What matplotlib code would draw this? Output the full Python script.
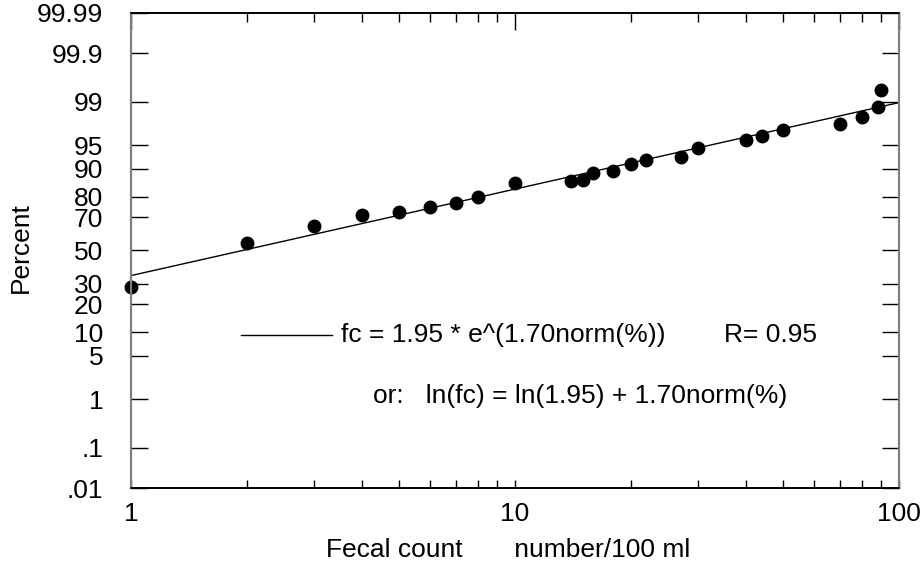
import math
import numpy as np
import matplotlib
matplotlib.use("Agg")
import matplotlib.pyplot as plt
from matplotlib.lines import Line2D

plt.rcParams['font.family'] = ['Liberation Sans', 'DejaVu Sans']

# fecal count (number/100 ml) and cumulative percent
fc = [1, 2, 3, 4, 5, 6, 7, 8, 10, 14, 15, 16, 18, 20, 22, 27, 30,
      40, 44, 50, 70, 80, 88, 90]
pct = [28.6, 54.6, 64.7, 70.9, 72.6, 75.1, 77.1, 80.1, 85.5, 86.1, 86.6,
       88.7, 89.2, 91.1, 92.1, 92.8, 94.5, 95.8, 96.4, 97.0, 97.6, 98.2,
       98.77, 99.40]

# fit: fc = a * e^(b*norm(%))
fit_a = 1.95
fit_b = 1.70
fit_r = 0.95

pct_ticks = [0.01, 0.1, 1, 5, 10, 20, 30, 50, 70, 80, 90, 95, 99, 99.9, 99.99]
pct_labels = ['.01', '.1', '1', '5', '10', '20', '30', '50', '70', '80',
              '90', '95', '99', '99.9', '99.99']
x_ticks = [1, 10, 100]
x_labels = ['1', '10', '100']

# normal quantile (Acklam approximation) and its inverse
_a = [-3.969683028665376e+01, 2.209460984245205e+02, -2.759285104469687e+02,
      1.383577518672690e+02, -3.066479806614716e+01, 2.506628277459239e+00]
_b = [-5.447609879822406e+01, 1.615858368580409e+02, -1.556989798598866e+02,
      6.680131188771972e+01, -1.328068155288572e+01]
_c = [-7.784894002430293e-03, -3.223964580411365e-01, -2.400758277161838e+00,
      -2.549732539343734e+00, 4.374664141464968e+00, 2.938163982698783e+00]
_d = [7.784695709041462e-03, 3.224671290700398e-01, 2.445134137142996e+00,
      3.754408661907416e+00]


def _ppf1(p):
    p = min(max(p, 1e-12), 1 - 1e-12)
    plow = 0.02425
    if p < plow:
        q = math.sqrt(-2 * math.log(p))
        return ((((((_c[0]*q+_c[1])*q+_c[2])*q+_c[3])*q+_c[4])*q+_c[5]) /
                ((((_d[0]*q+_d[1])*q+_d[2])*q+_d[3])*q+1))
    if p > 1 - plow:
        q = math.sqrt(-2 * math.log(1 - p))
        return -((((((_c[0]*q+_c[1])*q+_c[2])*q+_c[3])*q+_c[4])*q+_c[5]) /
                 ((((_d[0]*q+_d[1])*q+_d[2])*q+_d[3])*q+1))
    q = p - 0.5
    r = q * q
    return ((((((_a[0]*r+_a[1])*r+_a[2])*r+_a[3])*r+_a[4])*r+_a[5])*q /
            (((((_b[0]*r+_b[1])*r+_b[2])*r+_b[3])*r+_b[4])*r+1))


_ppf_v = np.vectorize(_ppf1, otypes=[float])
_erf_v = np.vectorize(math.erf, otypes=[float])


def pct_to_z(p):
    return _ppf_v(np.asarray(p, dtype=float) / 100.0)


def z_to_pct(z):
    return 50.0 * (1 + _erf_v(np.asarray(z, dtype=float) / math.sqrt(2)))


FS = 19

fig = plt.figure(figsize=(9.21, 5.66), dpi=100)
ax = fig.add_axes([131/921, 1-488/566, 768/921, 475/566])

ax.set_xscale('log')
ax.set_yscale('function', functions=(pct_to_z, z_to_pct))
ax.set_xlim(1, 100)
ax.set_ylim(0.01, 99.99)

# fitted line
xs = np.logspace(0, 2, 300)
ax.plot(xs, z_to_pct(np.log(xs / fit_a) / fit_b), color='black', lw=1.0)

ax.plot(fc, pct, 'o', color='black', ms=9, clip_on=False, zorder=5)

# y ticks, both sides
ax.set_yticks(pct_ticks)
ax.set_yticklabels(pct_labels)
ax.yaxis.set_minor_locator(matplotlib.ticker.NullLocator())
ax.tick_params(axis='y', which='both', direction='in', length=12, width=1,
               left=True, right=True, labelsize=FS, pad=20)

# x ticks (bottom)
ax.set_xticks(x_ticks)
ax.set_xticklabels(x_labels)
ax.tick_params(axis='x', which='both', direction='in', length=6, width=1,
               top=False, labelsize=FS, pad=10)

# top ticks, longer for decades
top = ax.twiny()
top.set_xscale('log')
top.set_xlim(1, 100)
top.tick_params(axis='x', which='major', direction='in', length=12, width=1,
                labeltop=False)
top.tick_params(axis='x', which='minor', direction='in', length=6.5, width=1,
                labeltop=False)

for a in (ax, top):
    a.spines['left'].set_color('#7f7f7f')
    a.spines['right'].set_color('#7f7f7f')
    a.spines['left'].set_linewidth(1.5)
    a.spines['right'].set_linewidth(1.5)
    a.spines['top'].set_linewidth(1.2)
    a.spines['bottom'].set_linewidth(1.2)

fig.text(21/921, 1-248/566, 'Percent', rotation=90, fontsize=FS,
         ha='center', va='center')
fig.text(508/921, 1-550/566, 'Fecal count       number/100 ml', fontsize=FS,
         ha='center', va='center')

# equation block
ax.add_line(Line2D([0.143, 0.262], [0.322, 0.322], color='black', lw=1.0,
                   transform=ax.transAxes))
ax.text(0.273, 0.322, 'fc = %.2f * e^(%.2fnorm(%%))' % (fit_a, fit_b),
        transform=ax.transAxes, fontsize=FS, va='center', ha='left')
ax.text(0.893, 0.322, 'R= %.2f' % fit_r, transform=ax.transAxes,
        fontsize=FS, va='center', ha='right')
ax.text(0.315, 0.194, 'or:   ln(fc) = ln(%.2f) + %.2fnorm(%%)' % (fit_a, fit_b),
        transform=ax.transAxes, fontsize=FS, va='center', ha='left')

fig.savefig('out.png', dpi=100)
